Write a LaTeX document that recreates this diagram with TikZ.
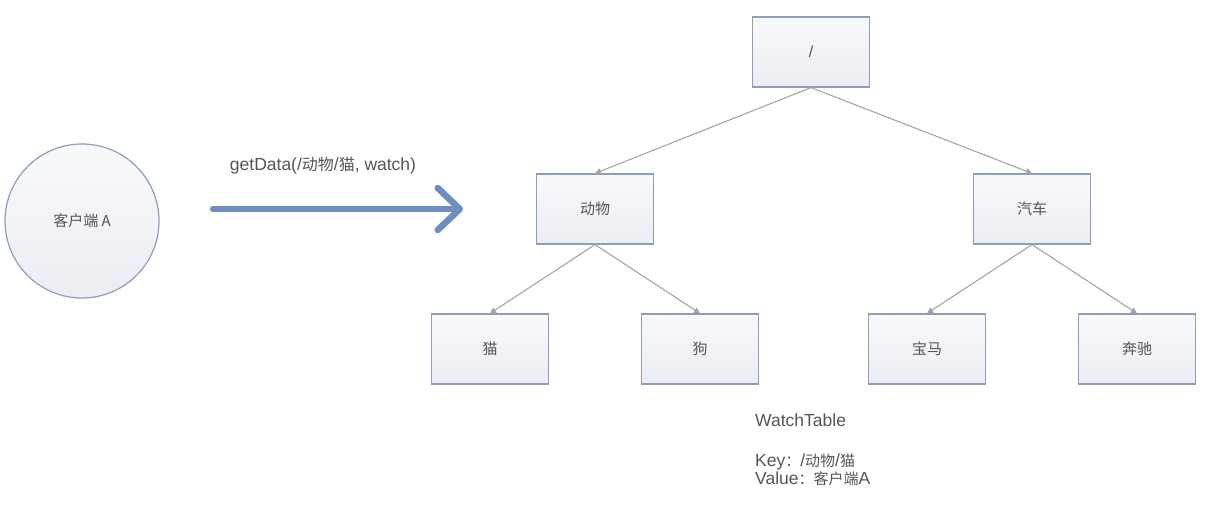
\documentclass[tikz,border=0pt]{standalone}
\usepackage{fontspec}
\setmainfont{Liberation Sans}
\newfontfamily\cjkfont{Noto Sans CJK SC}
\usetikzlibrary{arrows.meta,shadings}
\usepackage{xcolor}
\definecolor{boxline}{HTML}{8E9DBA}
\definecolor{boxtop}{HTML}{F8F9FB}
\definecolor{boxfill}{HTML}{EBEDF3}
\definecolor{edgegray}{HTML}{A4A4A4}
\definecolor{callblue}{HTML}{6C8EC2}
\definecolor{textgray}{HTML}{555555}
\newcommand{\zh}[1]{{\cjkfont\fontsize{15}{18}\selectfont #1}}
\tikzset{
  treebox/.style={draw=boxline, line width=1.2pt, top color=boxtop, bottom color=boxfill,
    minimum width=117pt, minimum height=70pt, inner sep=0pt, text=textgray,
    font=\fontsize{16}{19}\selectfont},
  client/.style={circle, draw=boxline, line width=1.2pt, top color=boxtop, bottom color=boxfill,
    minimum size=154pt, inner sep=0pt, text=textgray},
  edge/.style={draw=edgegray, line width=1.1pt, -{Triangle[length=6pt,width=6pt]}},
  plain/.style={text=textgray, inner sep=0pt, font=\fontsize{17.5}{20}\selectfont}
}

\begin{document}
\begin{tikzpicture}[x=1pt, y=-1pt]
    \useasboundingbox (0,0) rectangle (1211,504);

    % Client
    \node[client] (client) at (82,221) {\zh{客户端 A}};

    % Call
    \coordinate (callstart) at (213,209);
    \coordinate (callend) at (463,209);
    \draw[callblue, line width=6.5pt, line cap=round,
      -{Straight Barb[length=22pt,width=42pt,round]}] (callstart) -- (callend);
    \node[plain, font=\fontsize{17.5}{21}\selectfont] (call) at (323,166)
      {getData(/{\cjkfont\fontsize{16}{18}\selectfont 动物}/{\cjkfont\fontsize{16}{18}\selectfont 猫}, watch)};

    % Tree
    \node[treebox] (root) at (811,52) {/};
    \node[treebox] (animal) at (595,209) {\zh{动物}};
    \node[treebox] (car) at (1032,209) {\zh{汽车}};
    \node[treebox] (cat) at (490,349) {\zh{猫}};
    \node[treebox] (dog) at (700,349) {\zh{狗}};
    \node[treebox] (bmw) at (927,349) {\zh{宝马}};
    \node[treebox] (benz) at (1137,349) {\zh{奔驰}};

    % Edges
    \draw[edge] (root.south) -- (animal.north);
    \draw[edge] (root.south) -- (car.north);
    \draw[edge] (animal.south) -- (cat.north);
    \draw[edge] (animal.south) -- (dog.north);
    \draw[edge] (car.south) -- (bmw.north);
    \draw[edge] (car.south) -- (benz.north);

    % Watch table
    \node[plain, anchor=west] (wtitle) at (755,420) {WatchTable};
    \node[plain, anchor=west] (wkey) at (755,462) {Key\zh{：}/\zh{动物}/\zh{猫}};
    \node[plain, anchor=west] (wvalue) at (755,479) {Value\zh{：客户端}A};
\end{tikzpicture}
\end{document}
